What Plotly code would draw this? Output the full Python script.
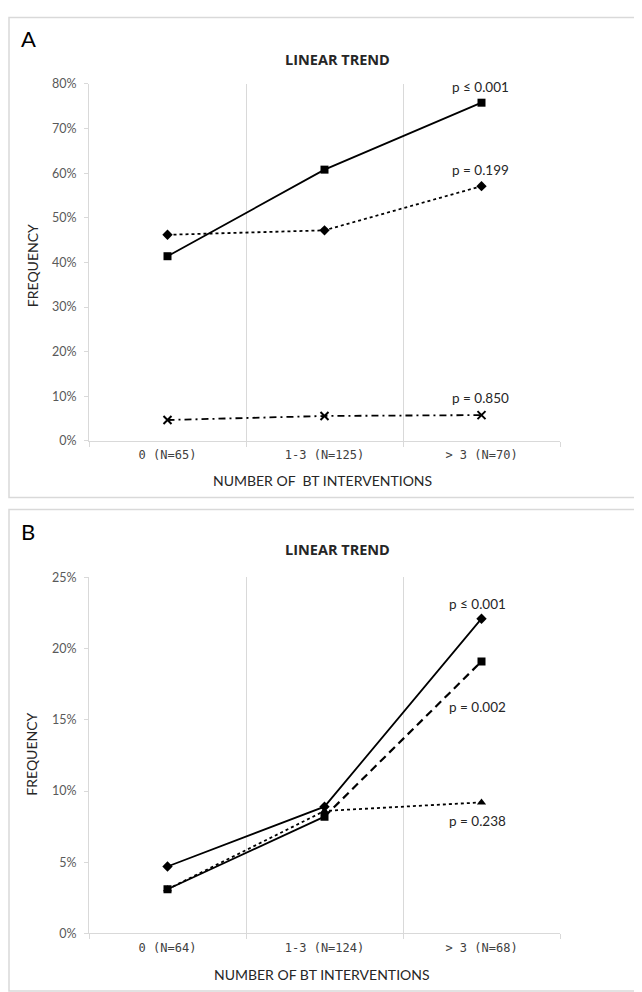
import plotly.graph_objects as go

# ---------------- data ----------------
categories_A = ["0 (N=65)", "1-3 (N=125)", "> 3 (N=70)"]
categories_B = ["0 (N=64)", "1-3 (N=124)", "> 3 (N=68)"]

a_square = [0.414, 0.608, 0.758]
a_diamond = [0.462, 0.472, 0.571]
a_cross = [0.047, 0.056, 0.058]

b_diamond = [0.047, 0.089, 0.221]
b_square = [0.031, 0.082, 0.191]
b_triangle = [0.031, 0.086, 0.092]

p_A = ["p ≤ 0.001", "p = 0.199", "p = 0.850"]
p_B = ["p ≤ 0.001", "p = 0.002", "p = 0.238"]

yticks_A = [0, 0.1, 0.2, 0.3, 0.4, 0.5, 0.6, 0.7, 0.8]
yticks_B = [0, 0.05, 0.10, 0.15, 0.20, 0.25]

panel_labels = ["A", "B"]
chart_title = "LINEAR TREND"
x_title_A = "NUMBER OF \u00a0BT INTERVENTIONS"
x_title_B = "NUMBER OF BT INTERVENTIONS"
y_title = "FREQUENCY"

# ---------------- layout geometry ----------------
W, H = 642, 992
FONT = "Lato, 'Open Sans', sans-serif"
CATFONT = "'DejaVu Sans Mono', monospace"
GRID = "#d9d9d9"
BLACK = "#000000"
TEXT = "#262626"


def py(pix):
    return 1 - pix / H


def px(pix):
    return pix / W


fig = go.Figure()

# ---- Panel A ----
fig.add_trace(go.Scatter(x=categories_A, y=a_cross, mode="lines+markers",
                         line=dict(color=BLACK, width=1.8, dash="7px,4px,2px,4px"),
                         marker=dict(symbol="x-thin", size=8, line=dict(color=BLACK, width=2)),
                         xaxis="x", yaxis="y", showlegend=False))
fig.add_trace(go.Scatter(x=categories_A, y=a_diamond, mode="lines+markers",
                         line=dict(color=BLACK, width=1.8, dash="dot"),
                         marker=dict(symbol="diamond", size=8, color=BLACK),
                         xaxis="x", yaxis="y", showlegend=False))
fig.add_trace(go.Scatter(x=categories_A, y=a_square, mode="lines+markers",
                         line=dict(color=BLACK, width=1.8),
                         marker=dict(symbol="square", size=8, color=BLACK),
                         xaxis="x", yaxis="y", showlegend=False))

# ---- Panel B ----
fig.add_trace(go.Scatter(x=categories_B, y=b_triangle, mode="lines+markers",
                         line=dict(color=BLACK, width=1.8, dash="dot"),
                         marker=dict(symbol="triangle-up", size=8, color=BLACK),
                         xaxis="x2", yaxis="y2", showlegend=False))
fig.add_trace(go.Scatter(x=categories_B[:2], y=b_square[:2], mode="lines",
                         line=dict(color=BLACK, width=1.8),
                         xaxis="x2", yaxis="y2", showlegend=False))
fig.add_trace(go.Scatter(x=categories_B[1:], y=b_square[1:], mode="lines",
                         line=dict(color=BLACK, width=2.2, dash="8px,5px"),
                         xaxis="x2", yaxis="y2", showlegend=False))
fig.add_trace(go.Scatter(x=categories_B, y=b_square, mode="markers",
                         marker=dict(symbol="square", size=8, color=BLACK),
                         xaxis="x2", yaxis="y2", showlegend=False))
fig.add_trace(go.Scatter(x=categories_B, y=b_diamond, mode="lines+markers",
                         line=dict(color=BLACK, width=1.8),
                         marker=dict(symbol="diamond", size=8, color=BLACK),
                         xaxis="x2", yaxis="y2", showlegend=False))

xdom = [px(81), px(552)]
common_x = dict(type="category", range=[-0.5, 2.5], tickson="boundaries",
                showgrid=True, gridcolor=GRID, gridwidth=1,
                showline=True, linecolor=GRID, linewidth=1,
                ticks="outside", ticklen=5, tickcolor=GRID, ticklabelstandoff=3,
                tickfont=dict(family=CATFONT, size=12, color="#404040"),
                zeroline=False, fixedrange=True)
common_y = dict(showgrid=False, zeroline=False, showline=True, linecolor=GRID,
                tickformat=".0%", tickfont=dict(family=FONT, size=12.5, color="#595959"),
                ticks="outside", ticklen=4, tickcolor=GRID, ticklabelstandoff=5)

fig.update_layout(
    width=W, height=H,
    margin=dict(l=0, r=0, t=0, b=0),
    paper_bgcolor="white", plot_bgcolor="white",
    xaxis=dict(domain=xdom, anchor="y", **common_x),
    yaxis=dict(domain=[py(431.5), py(69)], anchor="x", range=[0, 0.8],
               tickvals=yticks_A, **common_y),
    xaxis2=dict(domain=xdom, anchor="y2", **common_x),
    yaxis2=dict(domain=[py(931.5), py(570)], anchor="x2", range=[0, 0.25],
                tickvals=yticks_B, **common_y),
    shapes=[
        dict(type="rect", xref="paper", yref="paper", x0=px(1), x1=px(640),
             y0=py(489), y1=py(1.5), line=dict(color=GRID, width=1.5)),
        dict(type="rect", xref="paper", yref="paper", x0=px(1), x1=px(640),
             y0=py(990), y1=py(501), line=dict(color=GRID, width=1.5)),
    ],
)

ann = []
# panel letters and titles
for label, top in zip(panel_labels, [23, 523]):
    ann.append(dict(text=label, xref="paper", yref="paper", x=px(11), y=py(top),
                    xanchor="left", yanchor="middle", showarrow=False,
                    font=dict(family=FONT, size=22, color=BLACK)))
for top in [44, 542]:
    ann.append(dict(text="<b>" + chart_title + "</b>", xref="paper", yref="paper",
                    x=px(330), y=py(top), xanchor="center", yanchor="middle",
                    showarrow=False, font=dict(family="'Open Sans', sans-serif", size=14.5, color=TEXT)))
for txt, top in [(x_title_A, 472), (x_title_B, 973)]:
    ann.append(dict(text=txt, xref="paper", yref="paper", x=px(314), y=py(top),
                    xanchor="center", yanchor="middle", showarrow=False,
                    font=dict(family=FONT, size=14, color=TEXT)))
for mid in [253, 749]:
    ann.append(dict(text=y_title, xref="paper", yref="paper", x=px(24), y=py(mid),
                    xanchor="center", yanchor="middle", textangle=-90, showarrow=False,
                    font=dict(family=FONT, size=14, color=TEXT)))

# p-value labels next to the last point of each series
pfont = dict(family=FONT, size=13.5, color=TEXT)
for txt, vals, shift in zip(p_A, [a_square, a_diamond, a_cross], [16, 16, 17]):
    ann.append(dict(text=txt, xref="x", yref="y", x=categories_A[2], y=vals[2],
                    yshift=shift, xshift=-1, showarrow=False, font=pfont))
for txt, vals, shift in zip(p_B, [b_diamond, b_square, b_triangle], [15, -46, -19]):
    ann.append(dict(text=txt, xref="x2", yref="y2", x=categories_B[2], y=vals[2],
                    yshift=shift, xshift=-4, showarrow=False, font=pfont))

fig.update_layout(annotations=ann)
fig.write_html("out.html")
